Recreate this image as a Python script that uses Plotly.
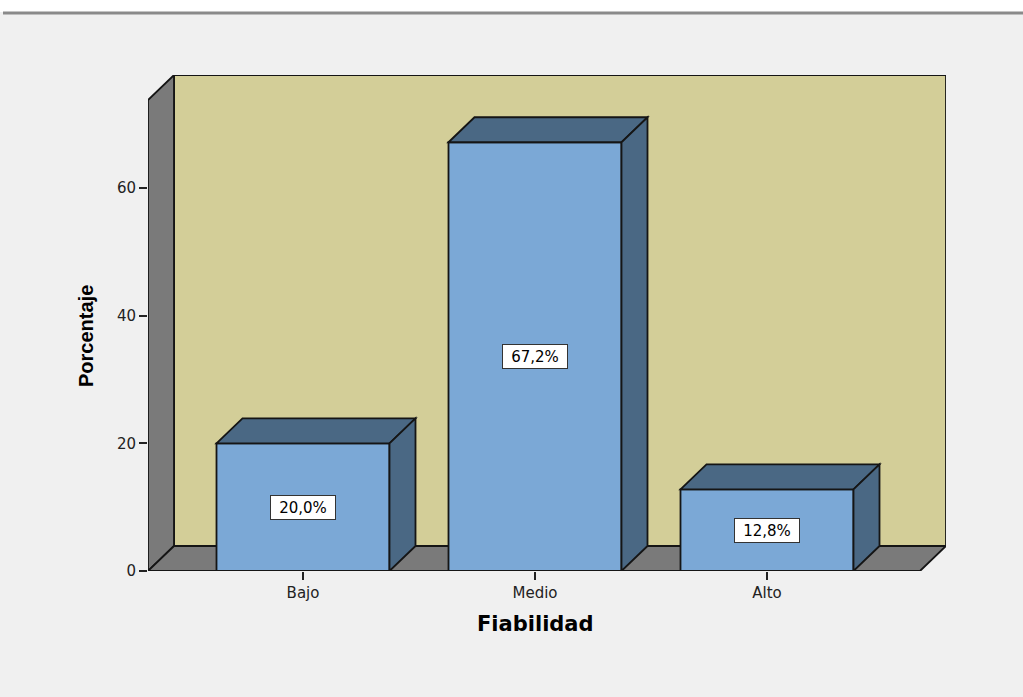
import plotly.graph_objects as go

# Data
categories = ["Bajo", "Medio", "Alto"]
percent = [20.0, 67.2, 12.8]
value_labels = ["20,0%", "67,2%", "12,8%"]
y_ticks = [0, 20, 40, 60]

# Canvas and plot-area geometry (pixels)
W, H = 1023, 697
PL, PR, PT, PB = 148, 946, 75, 571          # plot area edges
CAT_PX = 232                                 # pixels per category
CAT0_PX = 303                                # pixel of first category
Y_PX = 6.38                                  # pixels per percent unit
DEPTH_X_PX, DEPTH_Y_PX = 26, 25              # 3D depth offset

XMIN = (PL - CAT0_PX) / CAT_PX
XMAX = (PR - CAT0_PX) / CAT_PX
YMAX = (PB - PT) / Y_PX
DX = DEPTH_X_PX / CAT_PX
DY = DEPTH_Y_PX / Y_PX
BW = 173 / CAT_PX                            # bar width in category units

PAPER_BG = "#F0F0F0"
WALL_BACK = "#D3CE98"
WALL_SIDE = "#7A7A7A"
BAR_FRONT = "#7BA8D6"
BAR_SHADE = "#4A6884"
EDGE = "#151515"


def px_to_paper_x(px):
    return (px - PL) / (PR - PL)


def px_to_paper_y(py):
    return (PB - py) / (PB - PT)


shapes = []
edge = dict(color=EDGE, width=1.8)

# Back wall, left wall and floor of the 3D frame
shapes.append(dict(type="rect", xref="x", yref="y", layer="below",
                   x0=XMIN + DX, x1=XMAX, y0=DY, y1=YMAX,
                   fillcolor=WALL_BACK, line=edge))
shapes.append(dict(type="path", xref="x", yref="y", layer="below",
                   path=f"M {XMIN},0 L {XMIN},{YMAX - DY} L {XMIN + DX},{YMAX} "
                        f"L {XMIN + DX},{DY} Z",
                   fillcolor=WALL_SIDE, line=edge))
shapes.append(dict(type="path", xref="x", yref="y", layer="below",
                   path=f"M {XMIN},0 L {XMIN + DX},{DY} L {XMAX},{DY} "
                        f"L {XMAX - DX},0 Z",
                   fillcolor=WALL_SIDE, line=edge))

# Top and right faces of each bar
for i, v in enumerate(percent):
    xl, xr = i - BW / 2, i + BW / 2
    shapes.append(dict(type="path", xref="x", yref="y", layer="above",
                       path=f"M {xl},{v} L {xl + DX},{v + DY} L {xr + DX},{v + DY} "
                            f"L {xr},{v} Z",
                       fillcolor=BAR_SHADE, line=edge))
    shapes.append(dict(type="path", xref="x", yref="y", layer="above",
                       path=f"M {xr},0 L {xr},{v} L {xr + DX},{v + DY} "
                            f"L {xr + DX},{DY} Z",
                       fillcolor=BAR_SHADE, line=edge))

# White strip and rule across the top of the page
shapes.append(dict(type="rect", xref="paper", yref="paper", layer="above",
                   x0=px_to_paper_x(-2), x1=px_to_paper_x(W + 2),
                   y0=px_to_paper_y(12), y1=px_to_paper_y(-2),
                   fillcolor="white", line=dict(width=0)))
shapes.append(dict(type="line", xref="paper", yref="paper", layer="above",
                   x0=px_to_paper_x(3), x1=px_to_paper_x(W + 2),
                   y0=px_to_paper_y(13), y1=px_to_paper_y(13),
                   line=dict(color="#8A8A8A", width=3)))

fig = go.Figure()
fig.add_trace(go.Bar(
    x=list(range(len(categories))),
    y=percent,
    width=BW,
    marker=dict(color=BAR_FRONT, line=dict(color=EDGE, width=1.8)),
    hoverinfo="skip",
))

annotations = []
for i, (v, lab) in enumerate(zip(percent, value_labels)):
    annotations.append(dict(
        x=i, y=v / 2, xref="x", yref="y", text=lab, showarrow=False,
        xanchor="center", yanchor="middle",
        bgcolor="white", bordercolor="#333333", borderwidth=1,
        width=62, height=21,
        font=dict(family="DejaVu Sans", size=15, color="black"),
    ))

annotations.append(dict(
    x=px_to_paper_x(86), y=px_to_paper_y(336), xref="paper", yref="paper",
    xanchor="center", yanchor="middle",
    text="<b>Porcentaje</b>", textangle=-90, showarrow=False,
    font=dict(family="Liberation Sans", size=20, color="black"),
))
annotations.append(dict(
    x=px_to_paper_x(535), y=px_to_paper_y(624), xref="paper", yref="paper",
    xanchor="center", yanchor="middle",
    text="<b>Fiabilidad</b>", showarrow=False,
    font=dict(family="DejaVu Sans", size=21, color="black"),
))

fig.update_layout(
    width=W, height=H, autosize=False,
    margin=dict(l=PL, r=W - PR, t=PT, b=H - PB, pad=0),
    paper_bgcolor=PAPER_BG, plot_bgcolor=PAPER_BG,
    showlegend=False,
    shapes=shapes,
    annotations=annotations,
    xaxis=dict(
        range=[XMIN, XMAX], tickvals=list(range(len(categories))),
        ticktext=categories, ticks="outside", ticklen=8, tickwidth=1.5,
        tickcolor="#222222", showgrid=False, zeroline=False, showline=False,
        tickfont=dict(family="DejaVu Sans", size=15, color="#222222"),
        fixedrange=True,
    ),
    yaxis=dict(
        range=[0, YMAX], tickvals=y_ticks, ticks="outside", ticklen=8,
        tickwidth=1.5, tickcolor="#222222", showgrid=False, zeroline=False,
        showline=False,
        tickfont=dict(family="DejaVu Sans", size=15, color="#222222"),
        fixedrange=True,
    ),
)

fig.write_html("out.html")
